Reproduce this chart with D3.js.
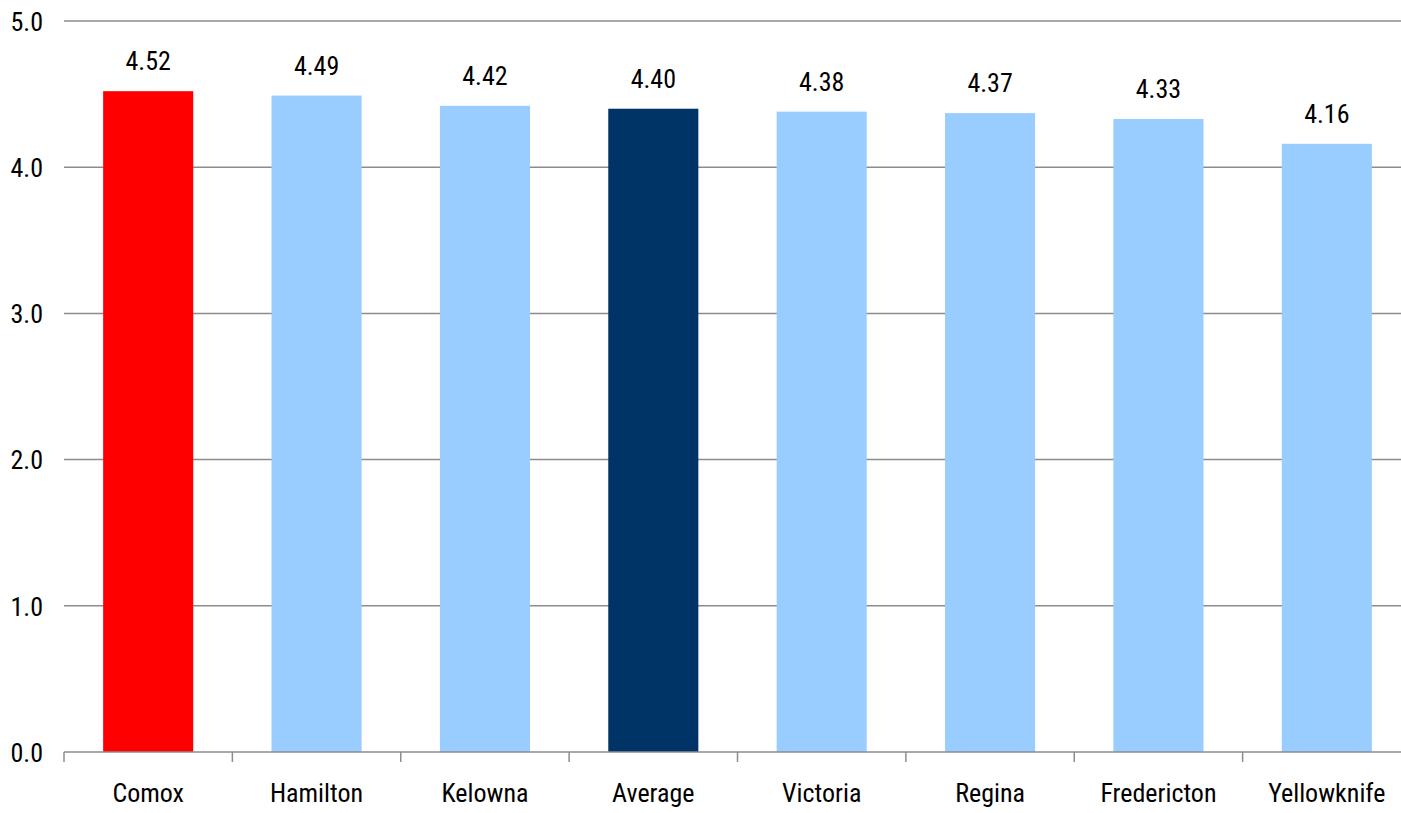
<!DOCTYPE html>
<html>
<head>
<meta charset="utf-8">
<script src="https://cdn.jsdelivr.net/npm/d3@7"></script>
<style>
  body { margin: 0; background: #fff; }
  text { font-family: "Liberation Sans Narrow", "Arial Narrow", "Roboto Condensed", sans-serif; fill: #000; }
</style>
</head>
<body>
<div id="viz"></div>
<script>
const width = 1401;
const height = 813;
const margin = {top: 21, right: -10, bottom: 61, left: 64};

const cities = ['Comox', 'Hamilton', 'Kelowna', 'Average', 'Victoria', 'Regina', 'Fredericton', 'Yellowknife'];
const scores = [4.52, 4.49, 4.42, 4.40, 4.38, 4.37, 4.33, 4.16];
const barColors = ['#ff0000', '#99ccff', '#99ccff', '#003366', '#99ccff', '#99ccff', '#99ccff', '#99ccff'];
const yTicks = [0, 1, 2, 3, 4, 5];

const data = cities.map((c, i) => ({city: c, value: scores[i], color: barColors[i]}));

const svg = d3.select('#viz')
    .append('svg')
        .attr('width', width)
        .attr('height', height);

// Scales
const xScale = d3.scaleBand()
    .domain(cities)
    .range([margin.left, width - margin.right])
    .paddingInner(0.465)
    .paddingOuter(0.2325);

const yScale = d3.scaleLinear()
    .domain([0, 5])
    .range([height - margin.bottom, margin.top]);

// Gridlines
svg.append('g')
    .attr('class', 'grid')
    .selectAll('line')
    .data(yTicks.slice(1))
    .join('line')
        .attr('x1', margin.left)
        .attr('x2', width)
        .attr('y1', d => yScale(d))
        .attr('y2', d => yScale(d))
        .attr('stroke', '#8c8c8c')
        .attr('stroke-width', 1.5);

// Y axis labels
const yAxis = d3.axisLeft(yScale)
    .tickValues(yTicks)
    .tickFormat(d3.format('.1f'))
    .tickSize(0)
    .tickPadding(21);

const yAxisGroup = svg.append('g')
    .attr('transform', `translate(${margin.left},0)`)
    .call(yAxis);
yAxisGroup.select('.domain').remove();
yAxisGroup.selectAll('text')
    .style('font-size', '26px')
    .attr('dy', '0.36em');

// Bars
svg.append('g')
    .attr('class', 'bars-group')
    .selectAll('rect')
    .data(data)
    .join('rect')
        .attr('x', d => xScale(d.city))
        .attr('y', d => yScale(d.value))
        .attr('width', xScale.bandwidth())
        .attr('height', d => yScale(0) - yScale(d.value))
        .style('fill', d => d.color);

// Value labels
svg.append('g')
    .selectAll('text')
    .data(data)
    .join('text')
        .attr('x', d => xScale(d.city) + xScale.bandwidth() / 2)
        .attr('y', d => yScale(d.value) - 21)
        .attr('text-anchor', 'middle')
        .style('font-size', '26px')
        .text(d => d3.format('.2f')(d.value));

// X axis baseline with tick marks between categories
const step = xScale.step();
const x0 = margin.left;
const baseY = yScale(0);
const xAxisGroup = svg.append('g').attr('class', 'x-axis-group');
xAxisGroup.append('line')
    .attr('x1', x0)
    .attr('x2', width)
    .attr('y1', baseY)
    .attr('y2', baseY)
    .attr('stroke', '#8c8c8c')
    .attr('stroke-width', 1.5);
xAxisGroup.selectAll('.tick-mark')
    .data(d3.range(cities.length))
    .join('line')
        .attr('class', 'tick-mark')
        .attr('x1', i => x0 + i * step)
        .attr('x2', i => x0 + i * step)
        .attr('y1', baseY)
        .attr('y2', baseY + 10)
        .attr('stroke', '#8c8c8c')
        .attr('stroke-width', 1.5);
xAxisGroup.selectAll('.cat-label')
    .data(cities)
    .join('text')
        .attr('class', 'cat-label')
        .attr('x', d => xScale(d) + xScale.bandwidth() / 2)
        .attr('y', baseY + 50)
        .attr('text-anchor', 'middle')
        .style('font-size', '26px')
        .text(d => d);
</script>
</body>
</html>
